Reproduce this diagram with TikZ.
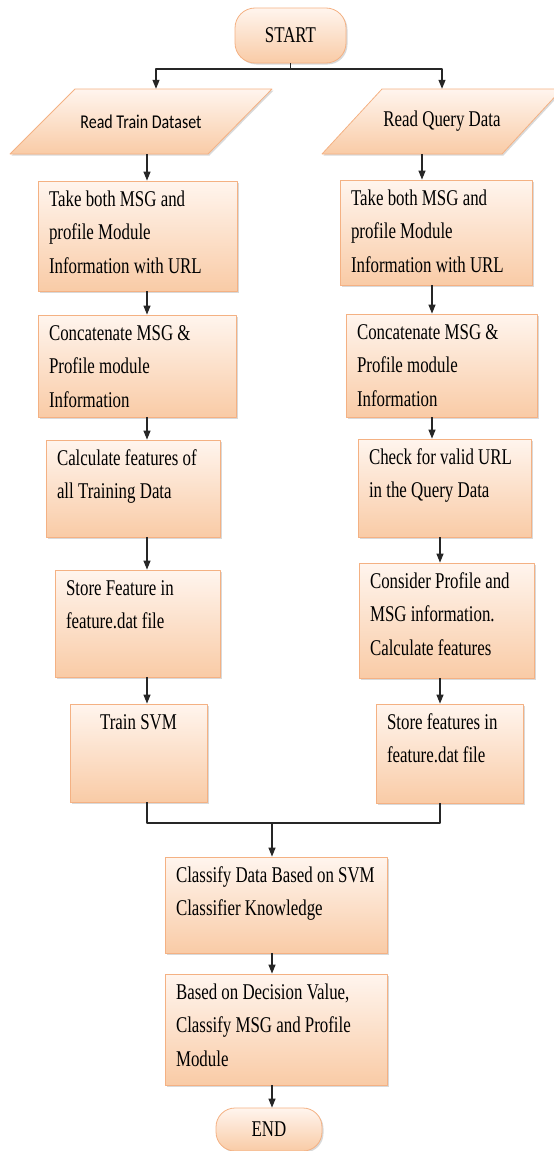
\documentclass[tikz,border=0pt]{standalone}
\usepackage{fontspec}
\setmainfont[FakeStretch=0.75]{Liberation Serif}
\newfontfamily\calfont[FakeStretch=0.82]{Carlito}
\usetikzlibrary{shadows,arrows.meta}
\definecolor{boxline}{RGB}{244,177,131}
\definecolor{boxtop}{RGB}{255,245,238}
\definecolor{boxbot}{RGB}{249,203,166}
% box text: width, height, lines (top aligned)
\newcommand{\boxtxt}[4][\raggedright\leftskip=11pt\relax]{\parbox[c][#3][t]{#2}{#1\rule{0pt}{25pt}#4}}
\begin{document}
\begin{tikzpicture}[x=1pt, y=-1pt, line join=round, >={Triangle[length=9pt,width=7pt]},
	font=\fontsize{22.5}{33.5}\selectfont,
	shapebase/.style={draw=boxline, line width=0.8pt, top color=boxtop, bottom color=boxbot,
		drop shadow={shadow xshift=1.5pt, shadow yshift=-1.5pt, opacity=0.3}},
	procbox/.style={shapebase, inner sep=0pt},
	terminal/.style={shapebase, rounded corners=20pt, inner sep=0pt},
	iotext/.style={minimum height=65pt, inner sep=0pt},
	link/.style={line width=1.2pt, black!85},
	arr/.style={link, ->}]
	\useasboundingbox (0,0) rectangle (554,1151);
	% start and the two inputs
	\node[terminal, minimum width=111pt, minimum height=55pt] (start) at (290.5,35.5) {START};
	\draw[shapebase] (10,154) -- (208,154) -- (272,89) -- (75,89) -- cycle;
	\node[iotext, minimum width=198pt, font=\calfont\fontsize{19.5}{24}\selectfont] (rtrain) at (141,121.5) {Read Train Dataset};
	\draw[shapebase] (322,154) -- (502,154) -- (562,89) -- (382,89) -- cycle;
	\node[iotext, minimum width=180pt] (qread) at (442,121.5) {Read Query Data};
	% training side
	\node[procbox] (ltake) at (137.5,236) {\boxtxt{199pt}{110pt}{Take both MSG and\\profile Module\\Information with URL}};
	\node[procbox] (lcat) at (137,366) {\boxtxt{198pt}{102pt}{Concatenate MSG \&\\Profile module\\Information}};
	\node[procbox] (lcalc) at (133,488.5) {\boxtxt{174pt}{97pt}{Calculate features of\\all Training Data}};
	\node[procbox] (lstore) at (137.5,623.5) {\boxtxt{165pt}{107pt}{Store Feature in\\feature.dat file}};
	\node[procbox] (lsvm) at (138.5,753) {\boxtxt[\centering]{137pt}{98pt}{Train SVM}};
	% query side
	\node[procbox] (qtake) at (436,232.5) {\boxtxt{192pt}{105pt}{Take both MSG and\\profile Module\\Information with URL}};
	\node[procbox] (qcat) at (441.5,365.5) {\boxtxt{191pt}{103pt}{Concatenate MSG \&\\Profile module\\Information}};
	\node[procbox] (qcheck) at (444.5,488) {\boxtxt{173pt}{98pt}{Check for valid URL\\in the Query Data}};
	\node[procbox] (qcons) at (446.5,620.5) {\boxtxt{175pt}{115pt}{Consider Profile and\\MSG information.\\Calculate features}};
	\node[procbox] (qstore) at (449.5,753.5) {\boxtxt{147pt}{99pt}{Store features in\\feature.dat file}};
	% classification
	\node[procbox] (classify) at (276,905) {\boxtxt{222pt}{96pt}{Classify Data Based on SVM\\Classifier Knowledge}};
	\node[procbox] (decide) at (276,1029.5) {\boxtxt{222pt}{111pt}{Based on Decision Value,\\Classify MSG and Profile\\Module}};
	\node[terminal, minimum width=106pt, minimum height=43pt, rounded corners=19pt] (stop) at (269,1129.5) {END};
	% arrows
	\coordinate (fork) at (290.5,69);
	\coordinate (lfork) at (156,0);
	\coordinate (lx) at (147,0);
	\coordinate (rxa) at (422,0);
	\coordinate (rxb) at (432,0);
	\coordinate (rxc) at (440,0);
	\coordinate (merge) at (272,823);
	\draw[link] (start) -- (fork);
	\draw[arr] (fork) -| (lfork |- rtrain.north);
	\draw[arr] (fork) -| (qread.north);
	\foreach \a/\b in {rtrain/ltake, ltake/lcat, lcat/lcalc, lcalc/lstore, lstore/lsvm}
		\draw[arr] (\a.south -| lx) -- (\b.north -| lx);
	\foreach \a/\b/\c in {qread/qtake/rxa, qtake/qcat/rxb, qcat/qcheck/rxb, qcheck/qcons/rxc, qcons/qstore/rxc}
		\draw[arr] (\a.south -| \c) -- (\b.north -| \c);
	\draw[link] (lsvm.south -| lx) |- (merge) -| (qstore.south -| rxc);
	\draw[arr] (merge) -- (merge |- classify.north);
	\draw[arr] (classify.south -| merge) -- (decide.north -| merge);
	\draw[arr] (decide.south -| merge) -- (stop.north -| merge);
\end{tikzpicture}
\end{document}
